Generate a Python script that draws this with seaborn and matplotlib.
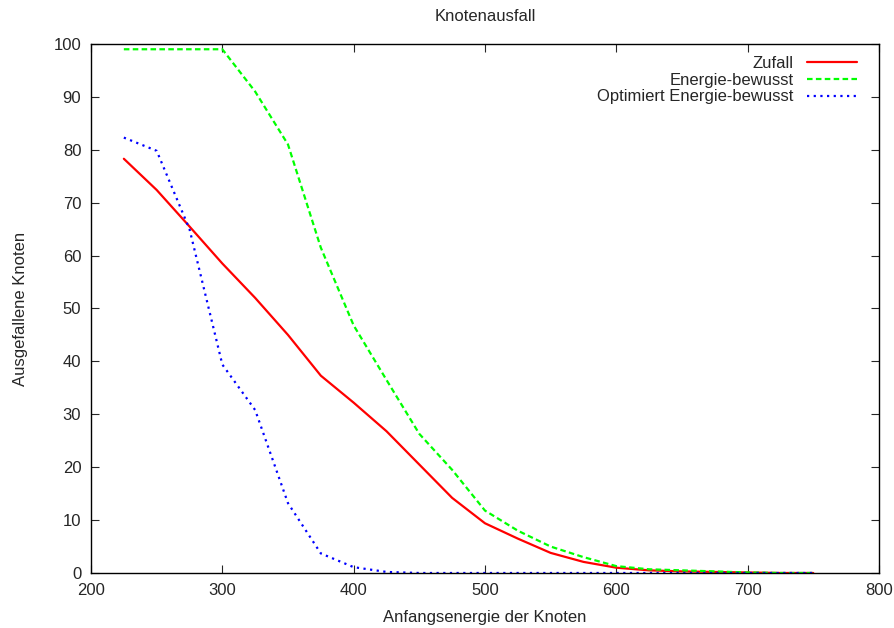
import pandas as pd
import matplotlib
matplotlib.use("Agg")
import matplotlib.pyplot as plt
import seaborn as sns

# Anfangsenergie der Knoten
energie = [225, 250, 275, 300, 325, 350, 375, 400, 425, 450, 475, 500,
           525, 550, 575, 600, 625, 650, 675, 700, 725, 750]

# Ausgefallene Knoten je Strategie
zufall = [78.3, 72.4, 65.5, 58.5, 52.0, 45.0, 37.3, 32.2, 26.8, 20.5, 14.2, 9.4,
          6.5, 3.8, 2.1, 1.0, 0.5, 0.3, 0.2, 0.1, 0.0, 0.0]
energie_bewusst = [99.0, 99.0, 99.0, 99.0, 91.0, 81.0, 61.5, 46.8, 36.5, 26.3, 19.5, 11.8,
                   8.0, 5.0, 3.0, 1.3, 0.7, 0.5, 0.3, 0.1, 0.0, 0.0]
optimiert = [82.3, 79.8, 65.0, 39.4, 30.8, 13.2, 3.7, 1.1, 0.2, 0.0, 0.0, 0.0,
             0.0, 0.0, 0.0, 0.0, 0.0, 0.0, 0.0, 0.0, 0.0, 0.0]

labels = ["Zufall", "Energie-bewusst", "Optimiert Energie-bewusst"]
colors = ["#ff0000", "#00ff00", "#0000ff"]
styles = ["-", (0, (2.5, 1.5)), (0, (1, 2))]

df = pd.DataFrame({"energie": energie, labels[0]: zufall,
                   labels[1]: energie_bewusst, labels[2]: optimiert})

sns.set_style("ticks")
plt.rcParams["font.family"] = ["Liberation Sans", "DejaVu Sans"]
plt.rcParams["font.size"] = 12

fig = plt.figure(figsize=(8.95, 6.28), dpi=100)
ax = fig.add_axes([0.1017, 0.0876, 0.8803, 0.8424])

for lab, col, ls in zip(labels, colors, styles):
    sns.lineplot(data=df, x="energie", y=lab, ax=ax, color=col,
                 linestyle=ls, linewidth=1.6, label=lab)

ax.set_xlim(200, 800)
ax.set_ylim(0, 100)
ax.set_xticks(range(200, 801, 100))
ax.set_yticks(range(0, 101, 10))
ax.tick_params(direction="in", top=True, right=True, length=6, width=0.8,
               labelsize=12, pad=7)
for s in ax.spines.values():
    s.set_linewidth(1.0)
    s.set_color("black")

fig.text(0.5 * (0.1017 + 0.982), 1 - 16.5 / 628, "Knotenausfall",
         ha="center", va="center", fontsize=12)
ax.set_xlabel("Anfangsenergie der Knoten", fontsize=12)
ax.set_ylabel("Ausgefallene Knoten", fontsize=12)
ax.xaxis.set_label_coords(0.5, -0.085)
ax.yaxis.set_label_coords(-0.090, 0.5)
ax.xaxis.label.set_va("center")
ax.yaxis.label.set_va("center")

ax.legend(loc="upper right", bbox_to_anchor=(0.972, 0.977), frameon=False,
          markerfirst=False, handlelength=3.0, handletextpad=0.78,
          labelspacing=0.1, borderpad=0, borderaxespad=0, fontsize=12)

fig.savefig("out.png", dpi=100)
